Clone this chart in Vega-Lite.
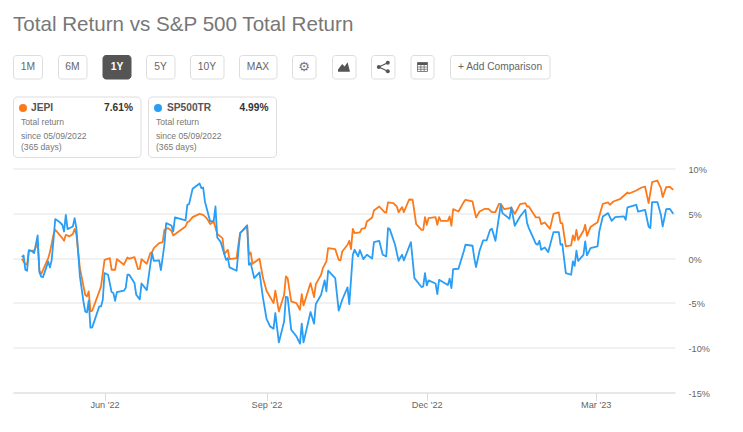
{"$schema":"https://vega.github.io/schema/vega-lite/v6.json",
"title":{"text":"Total Return vs S&P 500 Total Return","anchor":"start","offset":19,"font":"Liberation Sans","fontSize":20.6,"fontWeight":"normal","color":"#777777"},
"width":662,"height":224,"autosize":"none","padding":{"left":13,"top":168.5,"right":68,"bottom":39.5},
"background":"white","view":{"stroke":null},
"data":{"values":[{}]},
"datasets":{
"jepi":[{"date":"2022-04-15","ret":-0.07},{"date":"2022-04-17","ret":-0.67},{"date":"2022-04-18","ret":-0.74},{"date":"2022-04-19","ret":0.82},{"date":"2022-04-22","ret":0.82},{"date":"2022-04-24","ret":1.67},{"date":"2022-04-25","ret":-1.41},{"date":"2022-04-26","ret":-1.78},{"date":"2022-04-30","ret":0},{"date":"2022-05-01","ret":0.67},{"date":"2022-05-03","ret":2.6},{"date":"2022-05-04","ret":3.16},{"date":"2022-05-08","ret":2.23},{"date":"2022-05-09","ret":1.93},{"date":"2022-05-10","ret":2.6},{"date":"2022-05-12","ret":2.42},{"date":"2022-05-14","ret":2.68},{"date":"2022-05-15","ret":3.27},{"date":"2022-05-16","ret":2.6},{"date":"2022-05-18","ret":-1.12},{"date":"2022-05-21","ret":-4.09},{"date":"2022-05-22","ret":-4.28},{"date":"2022-05-23","ret":-3.72},{"date":"2022-05-24","ret":-5.95},{"date":"2022-05-25","ret":-5.87},{"date":"2022-05-29","ret":-3.72},{"date":"2022-05-30","ret":-3.16},{"date":"2022-06-01","ret":-0.19},{"date":"2022-06-04","ret":0},{"date":"2022-06-05","ret":-1.3},{"date":"2022-06-07","ret":-1.3},{"date":"2022-06-08","ret":-0.11},{"date":"2022-06-12","ret":-0.74},{"date":"2022-06-14","ret":0.07},{"date":"2022-06-15","ret":-0.07},{"date":"2022-06-18","ret":0.11},{"date":"2022-06-20","ret":-1.23},{"date":"2022-06-21","ret":-1.19},{"date":"2022-06-22","ret":-0.11},{"date":"2022-06-25","ret":-0.63},{"date":"2022-06-27","ret":0.56},{"date":"2022-06-28","ret":0.67},{"date":"2022-06-29","ret":1.12},{"date":"2022-07-02","ret":1.67},{"date":"2022-07-04","ret":1.78},{"date":"2022-07-05","ret":3.16},{"date":"2022-07-07","ret":3.35},{"date":"2022-07-09","ret":3.05},{"date":"2022-07-10","ret":2.53},{"date":"2022-07-17","ret":3.53},{"date":"2022-07-18","ret":4.01},{"date":"2022-07-19","ret":4.09},{"date":"2022-07-21","ret":4.57},{"date":"2022-07-25","ret":4.94},{"date":"2022-07-27","ret":4.83},{"date":"2022-07-29","ret":4.46},{"date":"2022-07-31","ret":3.79},{"date":"2022-08-02","ret":4.09},{"date":"2022-08-04","ret":2.68},{"date":"2022-08-07","ret":2.23},{"date":"2022-08-08","ret":0.45},{"date":"2022-08-10","ret":0.93},{"date":"2022-08-11","ret":-0.11},{"date":"2022-08-15","ret":0},{"date":"2022-08-16","ret":1.49},{"date":"2022-08-17","ret":2.79},{"date":"2022-08-20","ret":3.35},{"date":"2022-08-21","ret":3.64},{"date":"2022-08-22","ret":0.37},{"date":"2022-08-23","ret":0.63},{"date":"2022-08-24","ret":-0.63},{"date":"2022-08-28","ret":-0.07},{"date":"2022-08-30","ret":-2.23},{"date":"2022-09-01","ret":-3.64},{"date":"2022-09-05","ret":-5.02},{"date":"2022-09-06","ret":-3.64},{"date":"2022-09-08","ret":-5.95},{"date":"2022-09-11","ret":-4.09},{"date":"2022-09-12","ret":-2.04},{"date":"2022-09-13","ret":-2.23},{"date":"2022-09-15","ret":-4.83},{"date":"2022-09-18","ret":-5.02},{"date":"2022-09-20","ret":-5.76},{"date":"2022-09-21","ret":-4.01},{"date":"2022-09-22","ret":-5.28},{"date":"2022-09-26","ret":-2.79},{"date":"2022-09-28","ret":-4.35},{"date":"2022-09-29","ret":-2.9},{"date":"2022-10-02","ret":-1.86},{"date":"2022-10-03","ret":-1.12},{"date":"2022-10-05","ret":-0.37},{"date":"2022-10-06","ret":1.12},{"date":"2022-10-10","ret":1},{"date":"2022-10-12","ret":-0.19},{"date":"2022-10-13","ret":-0.26},{"date":"2022-10-14","ret":0.74},{"date":"2022-10-17","ret":1.49},{"date":"2022-10-18","ret":1.93},{"date":"2022-10-19","ret":1},{"date":"2022-10-20","ret":3.27},{"date":"2022-10-21","ret":2.79},{"date":"2022-10-24","ret":2.86},{"date":"2022-10-25","ret":3.27},{"date":"2022-10-27","ret":3.35},{"date":"2022-10-28","ret":4.09},{"date":"2022-10-31","ret":4.54},{"date":"2022-11-01","ret":5.32},{"date":"2022-11-04","ret":5.76},{"date":"2022-11-07","ret":5.13},{"date":"2022-11-08","ret":5.09},{"date":"2022-11-09","ret":6.21},{"date":"2022-11-12","ret":6.13},{"date":"2022-11-14","ret":5.76},{"date":"2022-11-15","ret":5.13},{"date":"2022-11-17","ret":5.69},{"date":"2022-11-18","ret":5.13},{"date":"2022-11-21","ret":6.54},{"date":"2022-11-23","ret":6.51},{"date":"2022-11-25","ret":3.79},{"date":"2022-11-28","ret":3.16},{"date":"2022-11-29","ret":3.16},{"date":"2022-11-30","ret":4.57},{"date":"2022-12-01","ret":3.72},{"date":"2022-12-02","ret":4.46},{"date":"2022-12-06","ret":4.57},{"date":"2022-12-07","ret":3.72},{"date":"2022-12-08","ret":4.57},{"date":"2022-12-09","ret":4.16},{"date":"2022-12-13","ret":4.16},{"date":"2022-12-14","ret":4.65},{"date":"2022-12-15","ret":3.61},{"date":"2022-12-16","ret":5.46},{"date":"2022-12-19","ret":5.2},{"date":"2022-12-22","ret":6.25},{"date":"2022-12-23","ret":6.51},{"date":"2022-12-27","ret":6.32},{"date":"2022-12-28","ret":5.39},{"date":"2022-12-29","ret":4.54},{"date":"2022-12-31","ret":5.2},{"date":"2023-01-03","ret":5.5},{"date":"2023-01-05","ret":5.5},{"date":"2023-01-07","ret":5.13},{"date":"2023-01-09","ret":5.13},{"date":"2023-01-11","ret":6.06},{"date":"2023-01-12","ret":6.06},{"date":"2023-01-14","ret":5.46},{"date":"2023-01-17","ret":5.58},{"date":"2023-01-18","ret":5.65},{"date":"2023-01-20","ret":4.94},{"date":"2023-01-23","ret":6.02},{"date":"2023-01-26","ret":6.13},{"date":"2023-01-27","ret":5.76},{"date":"2023-01-28","ret":5.76},{"date":"2023-02-01","ret":4.54},{"date":"2023-02-03","ret":4.54},{"date":"2023-02-04","ret":3.79},{"date":"2023-02-06","ret":3.98},{"date":"2023-02-09","ret":3.27},{"date":"2023-02-11","ret":4.94},{"date":"2023-02-14","ret":5.09},{"date":"2023-02-15","ret":3.9},{"date":"2023-02-16","ret":3.9},{"date":"2023-02-18","ret":1.3},{"date":"2023-02-21","ret":1.41},{"date":"2023-02-22","ret":2.53},{"date":"2023-02-23","ret":1.97},{"date":"2023-02-24","ret":3.16},{"date":"2023-02-25","ret":2.04},{"date":"2023-02-28","ret":3.05},{"date":"2023-03-01","ret":3.72},{"date":"2023-03-02","ret":2.49},{"date":"2023-03-04","ret":3.46},{"date":"2023-03-08","ret":4.01},{"date":"2023-03-11","ret":6.06},{"date":"2023-03-14","ret":6.21},{"date":"2023-03-15","ret":5.95},{"date":"2023-03-17","ret":6.32},{"date":"2023-03-21","ret":6.62},{"date":"2023-03-25","ret":7.32},{"date":"2023-03-26","ret":7.21},{"date":"2023-03-30","ret":7.55},{"date":"2023-04-02","ret":7.88},{"date":"2023-04-04","ret":7.99},{"date":"2023-04-06","ret":6.13},{"date":"2023-04-08","ret":8.48},{"date":"2023-04-11","ret":8.66},{"date":"2023-04-13","ret":7.81},{"date":"2023-04-14","ret":6.8},{"date":"2023-04-16","ret":7.92},{"date":"2023-04-18","ret":7.96},{"date":"2023-04-20","ret":7.62}],
"sp500tr":[{"date":"2022-04-15","ret":0.11},{"date":"2022-04-16","ret":0.3},{"date":"2022-04-17","ret":-1.3},{"date":"2022-04-18","ret":-1.41},{"date":"2022-04-19","ret":0.89},{"date":"2022-04-21","ret":0.74},{"date":"2022-04-22","ret":0.56},{"date":"2022-04-24","ret":2.53},{"date":"2022-04-25","ret":-1.56},{"date":"2022-04-26","ret":-2.08},{"date":"2022-04-27","ret":-2.12},{"date":"2022-04-28","ret":-1.56},{"date":"2022-04-30","ret":-0.37},{"date":"2022-05-01","ret":-1.04},{"date":"2022-05-02","ret":-0.19},{"date":"2022-05-04","ret":4.35},{"date":"2022-05-06","ret":4.09},{"date":"2022-05-08","ret":3.72},{"date":"2022-05-09","ret":2.97},{"date":"2022-05-10","ret":4.83},{"date":"2022-05-11","ret":3.23},{"date":"2022-05-14","ret":3.53},{"date":"2022-05-15","ret":4.46},{"date":"2022-05-16","ret":3.35},{"date":"2022-05-18","ret":-2.04},{"date":"2022-05-20","ret":-4.83},{"date":"2022-05-21","ret":-5.95},{"date":"2022-05-22","ret":-6.06},{"date":"2022-05-23","ret":-4.76},{"date":"2022-05-24","ret":-7.77},{"date":"2022-05-25","ret":-7.73},{"date":"2022-05-29","ret":-5.39},{"date":"2022-05-30","ret":-5.39},{"date":"2022-05-31","ret":-4.65},{"date":"2022-06-01","ret":-1.67},{"date":"2022-06-03","ret":-1.86},{"date":"2022-06-05","ret":-3.79},{"date":"2022-06-06","ret":-3.9},{"date":"2022-06-07","ret":-4.76},{"date":"2022-06-08","ret":-3.79},{"date":"2022-06-12","ret":-3.64},{"date":"2022-06-13","ret":-3.35},{"date":"2022-06-14","ret":-1.86},{"date":"2022-06-15","ret":-1.86},{"date":"2022-06-18","ret":-2.79},{"date":"2022-06-19","ret":-4.09},{"date":"2022-06-21","ret":-4.61},{"date":"2022-06-22","ret":-2.83},{"date":"2022-06-25","ret":-3.57},{"date":"2022-06-27","ret":-0.74},{"date":"2022-06-28","ret":0.56},{"date":"2022-06-29","ret":-0.3},{"date":"2022-07-02","ret":-0.26},{"date":"2022-07-03","ret":-1.34},{"date":"2022-07-05","ret":1.49},{"date":"2022-07-06","ret":3.9},{"date":"2022-07-09","ret":3.64},{"date":"2022-07-10","ret":2.97},{"date":"2022-07-11","ret":4.54},{"date":"2022-07-17","ret":4.2},{"date":"2022-07-18","ret":5.95},{"date":"2022-07-19","ret":6.02},{"date":"2022-07-21","ret":7.73},{"date":"2022-07-25","ret":8.33},{"date":"2022-07-26","ret":7.81},{"date":"2022-07-27","ret":7.88},{"date":"2022-07-28","ret":6.32},{"date":"2022-07-31","ret":4.09},{"date":"2022-08-02","ret":4.16},{"date":"2022-08-03","ret":5.76},{"date":"2022-08-04","ret":2.3},{"date":"2022-08-06","ret":1.78},{"date":"2022-08-09","ret":-0.19},{"date":"2022-08-10","ret":0},{"date":"2022-08-11","ret":-1.04},{"date":"2022-08-15","ret":-1.41},{"date":"2022-08-16","ret":0.74},{"date":"2022-08-17","ret":2.79},{"date":"2022-08-21","ret":3.64},{"date":"2022-08-22","ret":-0.74},{"date":"2022-08-23","ret":-0.56},{"date":"2022-08-25","ret":-2.23},{"date":"2022-08-28","ret":-1.6},{"date":"2022-08-30","ret":-4.46},{"date":"2022-09-01","ret":-6.77},{"date":"2022-09-03","ret":-7.62},{"date":"2022-09-05","ret":-7.88},{"date":"2022-09-06","ret":-6.13},{"date":"2022-09-08","ret":-9.41},{"date":"2022-09-11","ret":-7.06},{"date":"2022-09-12","ret":-4.31},{"date":"2022-09-13","ret":-4.39},{"date":"2022-09-15","ret":-7.99},{"date":"2022-09-18","ret":-8.74},{"date":"2022-09-20","ret":-9.55},{"date":"2022-09-21","ret":-7.32},{"date":"2022-09-22","ret":-9.41},{"date":"2022-09-26","ret":-6.02},{"date":"2022-09-28","ret":-7.32},{"date":"2022-09-29","ret":-5.13},{"date":"2022-10-02","ret":-4.09},{"date":"2022-10-04","ret":-2.49},{"date":"2022-10-05","ret":-3.72},{"date":"2022-10-06","ret":-1.41},{"date":"2022-10-10","ret":-2.23},{"date":"2022-10-12","ret":-5.87},{"date":"2022-10-14","ret":-4.65},{"date":"2022-10-17","ret":-3.27},{"date":"2022-10-18","ret":-5.13},{"date":"2022-10-20","ret":0.37},{"date":"2022-10-21","ret":0.93},{"date":"2022-10-23","ret":0.19},{"date":"2022-10-24","ret":0.89},{"date":"2022-10-26","ret":-0.11},{"date":"2022-10-28","ret":0.37},{"date":"2022-10-31","ret":-0.04},{"date":"2022-11-01","ret":1.78},{"date":"2022-11-04","ret":1.93},{"date":"2022-11-06","ret":0.37},{"date":"2022-11-08","ret":0.19},{"date":"2022-11-09","ret":3.35},{"date":"2022-11-10","ret":3.23},{"date":"2022-11-13","ret":1.49},{"date":"2022-11-15","ret":-0.3},{"date":"2022-11-17","ret":0.37},{"date":"2022-11-18","ret":-0.26},{"date":"2022-11-22","ret":1.78},{"date":"2022-11-24","ret":-2.23},{"date":"2022-11-28","ret":-3.23},{"date":"2022-11-29","ret":-3.16},{"date":"2022-11-30","ret":-1.67},{"date":"2022-12-01","ret":-3.05},{"date":"2022-12-02","ret":-2.49},{"date":"2022-12-06","ret":-2.83},{"date":"2022-12-07","ret":-4.01},{"date":"2022-12-08","ret":-2.42},{"date":"2022-12-13","ret":-3.01},{"date":"2022-12-14","ret":-2.3},{"date":"2022-12-15","ret":-3.35},{"date":"2022-12-16","ret":-1.23},{"date":"2022-12-19","ret":-1.19},{"date":"2022-12-22","ret":0.74},{"date":"2022-12-23","ret":1.49},{"date":"2022-12-27","ret":1.38},{"date":"2022-12-28","ret":0},{"date":"2022-12-29","ret":-1},{"date":"2022-12-31","ret":0.82},{"date":"2023-01-02","ret":1.97},{"date":"2023-01-04","ret":1.97},{"date":"2023-01-06","ret":3.16},{"date":"2023-01-07","ret":3.27},{"date":"2023-01-09","ret":1.93},{"date":"2023-01-12","ret":5.95},{"date":"2023-01-13","ret":5.02},{"date":"2023-01-17","ret":4.39},{"date":"2023-01-18","ret":5.65},{"date":"2023-01-20","ret":3.61},{"date":"2023-01-23","ret":4.65},{"date":"2023-01-26","ret":5.39},{"date":"2023-01-27","ret":3.9},{"date":"2023-01-28","ret":3.35},{"date":"2023-02-01","ret":1.6},{"date":"2023-02-02","ret":1.49},{"date":"2023-02-03","ret":1.93},{"date":"2023-02-04","ret":0.93},{"date":"2023-02-06","ret":1.19},{"date":"2023-02-08","ret":0.67},{"date":"2023-02-11","ret":2.9},{"date":"2023-02-14","ret":2.9},{"date":"2023-02-15","ret":1.49},{"date":"2023-02-16","ret":1.56},{"date":"2023-02-18","ret":-1.67},{"date":"2023-02-21","ret":-1.86},{"date":"2023-02-22","ret":-0.37},{"date":"2023-02-23","ret":-0.86},{"date":"2023-02-24","ret":0.82},{"date":"2023-02-25","ret":-0.3},{"date":"2023-02-28","ret":0.37},{"date":"2023-03-01","ret":1.86},{"date":"2023-03-02","ret":0.3},{"date":"2023-03-04","ret":1.12},{"date":"2023-03-08","ret":1.3},{"date":"2023-03-09","ret":2.97},{"date":"2023-03-11","ret":4.65},{"date":"2023-03-14","ret":5.02},{"date":"2023-03-16","ret":4.16},{"date":"2023-03-18","ret":4.57},{"date":"2023-03-23","ret":4.65},{"date":"2023-03-24","ret":4.28},{"date":"2023-03-25","ret":5.65},{"date":"2023-03-30","ret":5.95},{"date":"2023-03-31","ret":5.2},{"date":"2023-04-04","ret":5.39},{"date":"2023-04-06","ret":3.53},{"date":"2023-04-07","ret":3.35},{"date":"2023-04-08","ret":6.25},{"date":"2023-04-11","ret":6.25},{"date":"2023-04-13","ret":4.83},{"date":"2023-04-14","ret":3.53},{"date":"2023-04-16","ret":5.46},{"date":"2023-04-18","ret":5.5},{"date":"2023-04-20","ret":4.94}]
},
"layer":[
{"layer":[
{"data":{"name":"jepi"},"mark":{"type":"line","color":"#FB7A1C","strokeWidth":1.8,"strokeJoin":"round","interpolate":"linear"}},
{"data":{"name":"sp500tr"},"mark":{"type":"line","color":"#2A9DF4","strokeWidth":1.8,"strokeJoin":"round","interpolate":"linear"}}
],
"encoding":{
"x":{"field":"date","type":"temporal","scale":{"type":"utc","domain":["2022-04-10","2023-04-21"]},"axis":{"title":null,"values":["2022-06-01","2022-09-01","2022-12-01","2023-03-07"],"labelExpr":"utcFormat(datum.value, \"%b '%y\")","grid":false,"domainColor":"#dddddd","tickColor":"#dddddd","tickSize":8,"labelColor":"#666666","labelFont":"Liberation Sans","labelFontSize":9.2,"labelPadding":0}},
"y":{"field":"ret","type":"quantitative","scale":{"domain":[-15,10],"nice":false},"axis":{"title":null,"orient":"right","values":[-15,-10,-5,0,5,10],"labelExpr":"datum.value + '%'","domain":false,"ticks":false,"grid":true,"gridColor":"#e3e3e3","gridWidth":1,"labelColor":"#666666","labelFont":"Liberation Sans","labelFontSize":9.2,"labelPadding":13,"labelOffset":1}}
}},
{"mark":{"type":"rect","x":0.5,"x2":29.5,"y":-113,"y2":-89.5,"fill":"white","stroke":"#dddddd","cornerRadius":3}},
{"mark":{"type":"rect","x":45.5,"x2":74,"y":-113,"y2":-89.5,"fill":"white","stroke":"#dddddd","cornerRadius":3}},
{"mark":{"type":"rect","x":90,"x2":118,"y":-113,"y2":-89.5,"fill":"#555555","stroke":"#555555","cornerRadius":3}},
{"mark":{"type":"rect","x":133.5,"x2":162,"y":-113,"y2":-89.5,"fill":"white","stroke":"#dddddd","cornerRadius":3}},
{"mark":{"type":"rect","x":177.5,"x2":211,"y":-113,"y2":-89.5,"fill":"white","stroke":"#dddddd","cornerRadius":3}},
{"mark":{"type":"rect","x":226.5,"x2":264,"y":-113,"y2":-89.5,"fill":"white","stroke":"#dddddd","cornerRadius":3}},
{"mark":{"type":"rect","x":279.5,"x2":303,"y":-113,"y2":-89.5,"fill":"white","stroke":"#dddddd","cornerRadius":3}},
{"mark":{"type":"rect","x":319.5,"x2":343,"y":-113,"y2":-89.5,"fill":"white","stroke":"#dddddd","cornerRadius":3}},
{"mark":{"type":"rect","x":358.5,"x2":382,"y":-113,"y2":-89.5,"fill":"white","stroke":"#dddddd","cornerRadius":3}},
{"mark":{"type":"rect","x":398,"x2":421,"y":-113,"y2":-89.5,"fill":"white","stroke":"#dddddd","cornerRadius":3}},
{"mark":{"type":"rect","x":437.5,"x2":537,"y":-113,"y2":-89.5,"fill":"white","stroke":"#dddddd","cornerRadius":3}},
{"mark":{"type":"text","text":"1M","x":15,"y":-101.5,"font":"Liberation Sans","fontSize":10.3,"color":"#666666"}},
{"mark":{"type":"text","text":"6M","x":59.5,"y":-101.5,"font":"Liberation Sans","fontSize":10.3,"color":"#666666"}},
{"mark":{"type":"text","text":"1Y","x":104,"y":-101.5,"font":"Liberation Sans","fontSize":10.3,"fontWeight":"bold","color":"white"}},
{"mark":{"type":"text","text":"5Y","x":147.5,"y":-101.5,"font":"Liberation Sans","fontSize":10.3,"color":"#666666"}},
{"mark":{"type":"text","text":"10Y","x":194,"y":-101.5,"font":"Liberation Sans","fontSize":10.3,"color":"#666666"}},
{"mark":{"type":"text","text":"MAX","x":245,"y":-101.5,"font":"Liberation Sans","fontSize":10.3,"color":"#666666"}},
{"mark":{"type":"text","text":"+ Add Comparison","x":487,"y":-101.5,"font":"Liberation Sans","fontSize":10.2,"color":"#666666"}},
{"mark":{"type":"text","text":"⚙","x":291,"y":-101.5,"font":"DejaVu Sans","fontSize":13,"color":"#777777"}},
{"mark":{"type":"point","shape":"M-1,0.8L-1,0.4L-0.3,-0.5L0.1,-0.1L0.6,-0.8L1,0.8Z","x":331,"y":-101.5,"size":144,"filled":true,"color":"#555555","opacity":1}},
{"mark":{"type":"point","shape":"M-0.7,0L0.8,-0.7M-0.7,0L0.8,0.7","x":370,"y":-101.5,"size":144,"filled":false,"color":"#555555","strokeWidth":1.2,"opacity":1}},
{"mark":{"type":"circle","x":365.8,"y":-101.5,"size":16,"color":"#555555","opacity":1}},
{"mark":{"type":"circle","x":374.8,"y":-105.7,"size":16,"color":"#555555","opacity":1}},
{"mark":{"type":"circle","x":374.8,"y":-97.3,"size":16,"color":"#555555","opacity":1}},
{"mark":{"type":"point","shape":"M-1,-0.9H1V0.9H-1ZM-1,0H1M-1,0.45H1M-0.33,-0.4V0.9M0.33,-0.4V0.9","x":409.5,"y":-101.5,"size":100,"filled":false,"color":"#666666","strokeWidth":0.8,"opacity":1}},
{"mark":{"type":"point","shape":"M-1,-0.9H1V-0.4H-1Z","x":409.5,"y":-101.5,"size":100,"filled":true,"color":"#555555","opacity":1}},
{"mark":{"type":"rect","x":0.5,"x2":128,"y":-71.5,"y2":-11,"fill":"white","stroke":"#dddddd","cornerRadius":4}},
{"mark":{"type":"rect","x":135.5,"x2":263.5,"y":-71.5,"y2":-11,"fill":"white","stroke":"#dddddd","cornerRadius":4}},
{"mark":{"type":"circle","x":10,"y":-60.5,"size":64,"color":"#FB7A1C","opacity":1}},
{"mark":{"type":"circle","x":145,"y":-60.5,"size":64,"color":"#2A9DF4","opacity":1}},
{"mark":{"type":"text","text":"JEPI","x":18,"y":-60.5,"align":"left","font":"Liberation Sans","fontSize":10.2,"fontWeight":"bold","color":"#555555"}},
{"mark":{"type":"text","text":"7.61%","x":120,"y":-60.5,"align":"right","font":"Liberation Sans","fontSize":10.2,"fontWeight":"bold","color":"#333333"}},
{"mark":{"type":"text","text":"SP500TR","x":154,"y":-60.5,"align":"left","font":"Liberation Sans","fontSize":10.2,"fontWeight":"bold","color":"#555555"}},
{"mark":{"type":"text","text":"4.99%","x":255.5,"y":-60.5,"align":"right","font":"Liberation Sans","fontSize":10.2,"fontWeight":"bold","color":"#333333"}},
{"mark":{"type":"text","text":"Total return","x":8,"y":-46.5,"align":"left","font":"Liberation Sans","fontSize":8.6,"color":"#777777"}},
{"mark":{"type":"text","text":"since 05/09/2022","x":8,"y":-32.5,"align":"left","font":"Liberation Sans","fontSize":8.6,"color":"#777777"}},
{"mark":{"type":"text","text":"(365 days)","x":8,"y":-22,"align":"left","font":"Liberation Sans","fontSize":8.6,"color":"#777777"}},
{"mark":{"type":"text","text":"Total return","x":143,"y":-46.5,"align":"left","font":"Liberation Sans","fontSize":8.6,"color":"#777777"}},
{"mark":{"type":"text","text":"since 05/09/2022","x":143,"y":-32.5,"align":"left","font":"Liberation Sans","fontSize":8.6,"color":"#777777"}},
{"mark":{"type":"text","text":"(365 days)","x":143,"y":-22,"align":"left","font":"Liberation Sans","fontSize":8.6,"color":"#777777"}}
]}
